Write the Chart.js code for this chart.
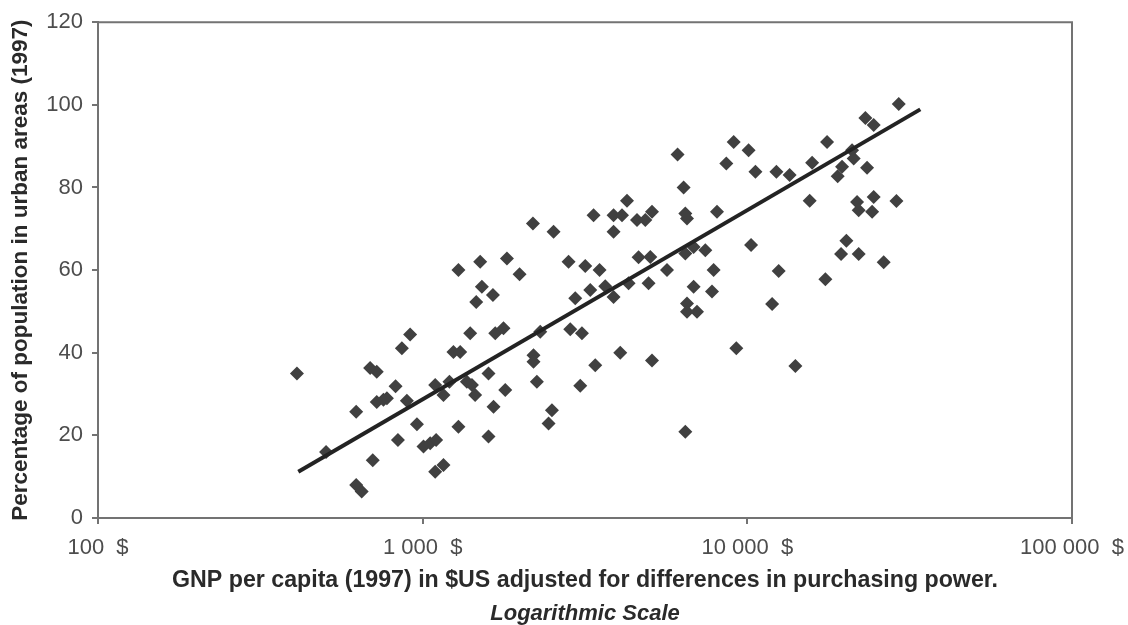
<!DOCTYPE html>
<html>
<head>
<meta charset="utf-8">
<script src="https://cdn.jsdelivr.net/npm/chart.js@4.4.1/dist/chart.umd.min.js"></script>
<style>
  html, body { margin: 0; padding: 0; background: #ffffff; }
  #wrap { width: 1128px; height: 625px; }
</style>
</head>
<body>
<div id="wrap"><canvas id="c" width="1128" height="625"></canvas></div>
<script>
// GNP per capita (1997, $US PPP) for each country
const gnpValues = [410, 504, 624, 624, 649, 689, 722, 702, 722, 757,
  776, 825, 839, 863, 915, 894, 960, 1006, 1055, 1100,
  1093, 1159, 1093, 1159, 1244, 1305, 1289, 1209, 1368, 1418,
  1451, 1401, 1462, 1595, 1595, 1653, 1673, 1289, 1504, 1818,
  1988, 1522, 1646, 2186, 2530, 2814, 3168, 3506, 3360, 3873,
  4111, 4259, 4572, 4850, 5086, 3873, 6364, 6441, 6520, 4624,
  5025, 5656, 6441, 6832, 2951, 3282, 3651, 3873, 4308, 4964,
  6832, 6520, 6520, 6998, 1774, 2302, 2848, 3094, 2195, 2195,
  4061, 5086, 3401, 1796, 2248, 3058, 2501, 2442, 6441, 6098,
  9076, 10090, 8614, 10590, 12290, 13500, 15830, 17600, 21020, 21260,
  19580, 18980, 23380, 23100, 24500, 29270, 8065, 15560, 21780, 22030,
  24500, 24230, 28790, 10270, 7423, 7873, 7785, 12490, 11920, 17390,
  20190, 19440, 22030, 26300, 9250, 14060];
// Percentage of population in urban areas (1997)
const urbanValues = [35.0, 16.0, 25.7, 8.0, 6.4, 36.3, 35.4, 14.0, 28.1, 28.6,
  29.0, 31.9, 18.9, 41.1, 44.4, 28.4, 22.7, 17.3, 18.1, 18.9,
  11.2, 12.8, 32.2, 29.8, 40.2, 40.2, 22.1, 33.0, 33.0, 32.2,
  29.8, 44.7, 52.3, 19.7, 35.0, 26.9, 44.7, 60.0, 62.0, 62.8,
  59.0, 56.0, 54.0, 71.3, 69.3, 62.0, 61.0, 60.0, 73.3, 73.3,
  73.3, 76.8, 72.1, 72.1, 74.1, 69.3, 80.0, 73.7, 72.5, 63.1,
  63.2, 60.0, 64.0, 65.6, 53.2, 55.2, 56.1, 53.5, 56.8, 56.8,
  56.0, 51.9, 49.9, 49.9, 45.9, 45.1, 45.7, 44.7, 39.4, 37.8,
  40.0, 38.1, 37.0, 31.0, 33.0, 32.0, 26.1, 22.9, 20.9, 88.0,
  91.0, 89.0, 85.8, 83.8, 83.8, 83.0, 86.0, 91.0, 89.0, 87.0,
  85.0, 82.7, 84.8, 96.8, 95.1, 100.2, 74.1, 76.8, 76.5, 74.5,
  77.7, 74.1, 76.7, 66.1, 64.8, 60.0, 54.8, 59.8, 51.8, 57.8,
  67.1, 63.9, 63.9, 61.9, 41.1, 36.8];
// Trend line end points
const trendGnp = [414, 34100];
const trendUrban = [11.2, 98.9];
// Axis ticks
const xTickValues = [100, 1000, 10000, 100000];
const xTickLabels = ['100  $', '1 000  $', '10 000  $', '100 000  $'];
const yTickValues = [0, 20, 40, 60, 80, 100, 120];

const xTitle = 'GNP per capita (1997) in $US adjusted for differences in purchasing power.';
const xSubtitle = 'Logarithmic Scale';
const yTitle = 'Percentage of population in urban areas (1997)';

const scatterData = gnpValues.map((g, i) => ({x: g, y: urbanValues[i]}));
const trendData = trendGnp.map((g, i) => ({x: g, y: trendUrban[i]}));

const FONT = 'Liberation Sans, Arial, Helvetica, sans-serif';

const frame = {
  id: 'frame',
  afterDatasetsDraw(chart) {
    const {ctx, chartArea: a} = chart;
    ctx.save();
    ctx.strokeStyle = '#737373';
    ctx.lineWidth = 2;
    ctx.beginPath();
    ctx.moveTo(a.left, a.top);
    ctx.lineTo(a.right, a.top);
    ctx.lineTo(a.right, a.bottom);
    ctx.stroke();
    ctx.restore();
  }
};

new Chart(document.getElementById('c'), {
  type: 'scatter',
  data: {
    datasets: [
      {
        type: 'line',
        data: trendData,
        borderColor: '#232323',
        borderWidth: 4,
        pointRadius: 0,
        fill: false,
        order: 0
      },
      {
        data: scatterData,
        pointStyle: 'rectRot',
        pointRadius: 7,
        backgroundColor: '#404040',
        borderColor: '#404040',
        borderWidth: 0,
        order: 1
      }
    ]
  },
  options: {
    responsive: false,
    animation: false,
    devicePixelRatio: 1,
    layout: { padding: { left: 0, right: 56, top: 22, bottom: 0 } },
    plugins: {
      legend: { display: false },
      tooltip: { enabled: false },
      title: { display: false },
      subtitle: {
        display: true,
        position: 'bottom',
        fullSize: false,
        text: xSubtitle,
        color: '#2a2a2a',
        font: { family: FONT, size: 22, weight: 'bold', style: 'italic', lineHeight: 1.0 },
        padding: { top: 0, bottom: 0 }
      }
    },
    scales: {
      x: {
        type: 'logarithmic',
        min: 100,
        max: 100000,
        afterBuildTicks(scale) { scale.ticks = xTickValues.map(v => ({value: v})); },
        afterFit(scale) { scale.height = 85; scale.paddingLeft = 0; scale.paddingRight = 0; },
        ticks: {
          autoSkip: false,
          maxRotation: 0,
          padding: 11,
          color: '#4d4d4d',
          font: { family: FONT, size: 22 },
          callback: (v, i) => xTickLabels[i]
        },
        grid: { display: true, drawOnChartArea: false, drawTicks: true, tickLength: 6, color: '#737373', lineWidth: 2 },
        border: { display: true, color: '#737373', width: 2 },
        title: {
          display: true,
          text: xTitle,
          color: '#2a2a2a',
          font: { family: FONT, size: 23.2, weight: 'bold', lineHeight: 1.1 },
          padding: { top: 0, bottom: 10 }
        }
      },
      y: {
        min: 0,
        max: 120,
        afterBuildTicks(scale) { scale.ticks = yTickValues.map(v => ({value: v})); },
        afterFit(scale) { scale.width = 98; },
        ticks: {
          padding: 9,
          color: '#4d4d4d',
          font: { family: FONT, size: 22 }
        },
        grid: { display: true, drawOnChartArea: false, drawTicks: true, tickLength: 6, color: '#737373', lineWidth: 2 },
        border: { display: true, color: '#737373', width: 2 },
        title: {
          display: true,
          text: yTitle,
          color: '#2a2a2a',
          font: { family: FONT, size: 22.5, weight: 'bold', lineHeight: 1.1 },
          padding: { top: 8, bottom: 0 }
        }
      }
    }
  },
  plugins: [frame]
});
</script>
</body>
</html>
